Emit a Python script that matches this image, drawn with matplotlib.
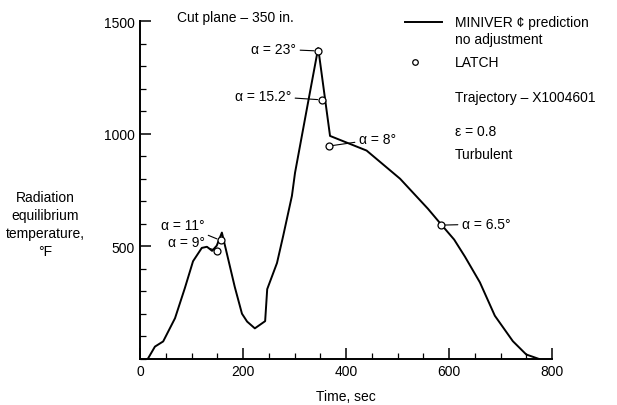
import numpy as np
import matplotlib
matplotlib.use("Agg")
import matplotlib.pyplot as plt
from matplotlib.ticker import MultipleLocator

plt.rcParams['font.family'] = ['Liberation Sans', 'DejaVu Sans']
plt.rcParams['font.size'] = 10

# MINIVER prediction curve
t_pred = [15, 29, 45, 68, 87, 103, 120, 130, 140, 149, 159, 169, 184, 198, 208,
          223, 243, 247, 266, 278, 295, 301, 324, 346, 369, 440, 505, 559, 583,
          610, 631, 660, 689, 724, 750, 775]
T_pred = [0, 55, 78, 181, 314, 434, 493, 498, 480, 503, 561, 465, 320, 201, 166,
          136, 168, 310, 426, 546, 724, 826, 1110, 1380, 990, 925, 800, 667, 602,
          530, 454, 340, 192, 79, 20, 0]

# LATCH points
t_latch = [150, 157, 346, 353, 367, 584]
T_latch = [481, 526, 1367, 1150, 945, 594]
alpha_lbl = ["α = 9°", "α = 11°", "α = 23°", "α = 15.2°", "α = 8°", "α = 6.5°"]
# label positions in figure pixels (from top) and text alignment
lbl_px = [(205, 243), (205, 226), (296, 50), (291, 97), (359, 140), (462, 225)]
lbl_ha = ['right', 'right', 'right', 'right', 'left', 'left']

fig = plt.figure(figsize=(6.17, 4.06), dpi=100)
ax = fig.add_axes([140/617, 46/406, 412/617, 338/406])

ax.plot(t_pred, T_pred, color='black', lw=1.4)
ax.plot(t_latch, T_latch, 'o', mfc='white', mec='black', ms=5, mew=0.9)

for i in range(len(t_latch)):
    x, y = lbl_px[i]
    ax.annotate(alpha_lbl[i], xy=(t_latch[i], T_latch[i]), xycoords='data',
                xytext=(x, 406 - y), textcoords='figure pixels',
                ha=lbl_ha[i], va='center', fontsize=10,
                arrowprops=dict(arrowstyle='-', lw=0.8, color='black',
                                shrinkA=1, shrinkB=3))

ax.set_xlim(0, 800)
ax.set_ylim(0, 1500)
ax.spines['top'].set_visible(False)
ax.spines['right'].set_visible(False)
ax.spines['left'].set_linewidth(1.4)
ax.spines['bottom'].set_linewidth(1.4)
ax.xaxis.set_major_locator(MultipleLocator(200))
ax.xaxis.set_minor_locator(MultipleLocator(50))
ax.yaxis.set_major_locator(MultipleLocator(500))
ax.yaxis.set_minor_locator(MultipleLocator(100))
ax.tick_params(which='major', direction='in', length=8, width=1.1, labelsize=10)
ax.tick_params(which='minor', direction='in', length=4, width=0.9)
ax.set_yticks([500, 1000, 1500])
ax.set_xlabel("Time, sec", fontsize=10, labelpad=8)

fig.text(45/617, 1 - 225/406, "Radiation\nequilibrium\ntemperature,\n°F",
         ha='center', va='center', fontsize=10, linespacing=1.35)

fig.text(177/617, 1 - 18/406, "Cut plane – 350 in.", ha='left', va='center')

# legend block
fig.add_artist(plt.Line2D([405/617, 442/617], [1 - 23/406, 1 - 23/406],
                          color='black', lw=1.4))
fig.text(455/617, 1 - 23/406, "MINIVER ¢ prediction", ha='left', va='center')
fig.text(455/617, 1 - 40/406, "no adjustment", ha='left', va='center')
fig.add_artist(plt.Line2D([415/617], [1 - 63/406], marker='o', mfc='white',
                          mec='black', ms=4, mew=0.9))
fig.text(455/617, 1 - 63/406, "LATCH", ha='left', va='center')
fig.text(455/617, 1 - 98/406, "Trajectory – X1004601", ha='left', va='center')
fig.text(455/617, 1 - 132/406, "ε = 0.8", ha='left', va='center')
fig.text(455/617, 1 - 155/406, "Turbulent", ha='left', va='center')

fig.savefig("out.png", dpi=100)
